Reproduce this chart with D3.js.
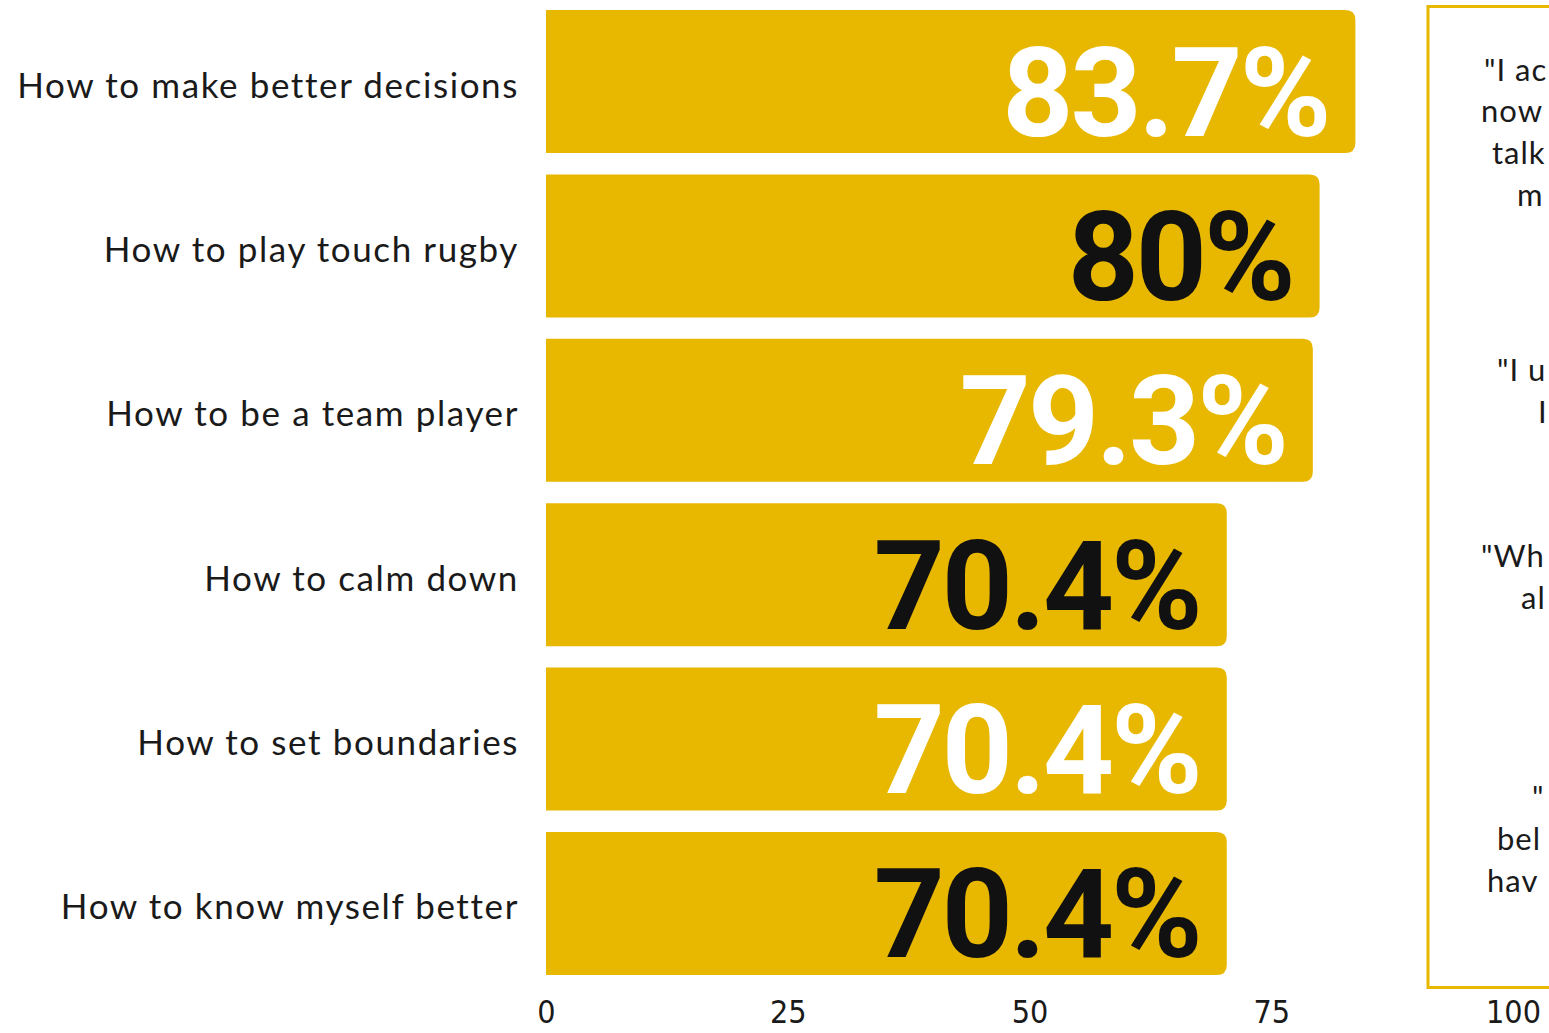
<!DOCTYPE html>
<html>
<head>
    <script src="https://d3js.org/d3.v7.min.js"></script>
    <style type="text/css">
        body { margin: 0; background: #fff; overflow: hidden; }
        svg { display: block; }
        .cat { font-family: Lato, "Noto Sans", sans-serif; font-size: 35px; letter-spacing: 1.6px; fill: #1a1a1a; }
        .val { font-family: Roboto, "Liberation Sans", sans-serif; font-weight: 700; font-size: 124px; letter-spacing: -3px; }
        .tick text { font-family: "Liberation Sans Narrow", "DejaVu Sans Condensed", sans-serif; font-stretch: condensed; font-size: 32px; fill: #1a1a1a; }
        .quote { font-family: Lato, "Noto Sans", sans-serif; font-size: 31px; letter-spacing: 1px; fill: #1a1a1a; }
    </style>
</head>
<body>
    <script type="text/javascript">

        var w = 1549;
        var h = 1033;

        // chart data
        var categories = ["How to make better decisions", "How to play touch rugby", "How to be a team player",
                          "How to calm down", "How to set boundaries", "How to know myself better"];
        var values = [83.7, 80, 79.3, 70.4, 70.4, 70.4];
        var valueLabels = ["83.7%", "80%", "79.3%", "70.4%", "70.4%", "70.4%"];
        var labelColors = ["#ffffff", "#111111", "#ffffff", "#111111", "#ffffff", "#111111"];
        var ticks = [0, 25, 50, 75, 100];

        // quote fragments visible at the right edge (box is cut off by the page)
        var quoteLines = ["\"I ac", "now", "talk", "m", "\"I u", "I", "\"Wh", "al", "\"", "bel", "hav"];
        var quoteX = [1484, 1481, 1492, 1517, 1497, 1538, 1481, 1521, 1532, 1497, 1487];
        var quoteY = [81, 122, 164, 206, 381, 423, 567, 609, 808, 850, 892];

        var barColor = "#e8b700";

        var svg = d3.select("body")
            .append("svg")
            .attr("width", w)
            .attr("height", h);

        var xScale = d3.scaleLinear()
            .domain([0, 100])
            .range([546, 1513]);

        var yScale = d3.scaleBand()
            .domain(categories)
            .range([10, 975])
            .paddingInner(0.13)
            .paddingOuter(0);

        // bar with rounded right corners only
        function barPath(d, i) {
            var x0 = xScale(0), x1 = xScale(d), y0 = yScale(categories[i]), bh = yScale.bandwidth(), r = 10;
            return "M" + x0 + "," + y0 +
                "H" + (x1 - r) +
                "Q" + x1 + "," + y0 + " " + x1 + "," + (y0 + r) +
                "V" + (y0 + bh - r) +
                "Q" + x1 + "," + (y0 + bh) + " " + (x1 - r) + "," + (y0 + bh) +
                "H" + x0 + "Z";
        }

        svg.selectAll("path.bar")
            .data(values)
            .enter()
            .append("path")
            .attr("class", "bar")
            .attr("d", barPath)
            .attr("fill", barColor);

        // category labels
        svg.selectAll("text.cat")
            .data(categories)
            .enter()
            .append("text")
            .attr("class", "cat")
            .attr("x", 519)
            .attr("y", function(d) { return yScale(d) + yScale.bandwidth() / 2 + 2; })
            .attr("text-anchor", "end")
            .attr("dominant-baseline", "central")
            .text(function(d) { return d; });

        // value labels inside bars
        svg.selectAll("text.val")
            .data(values)
            .enter()
            .append("text")
            .attr("class", "val")
            .attr("x", function(d) { return xScale(d) - 27; })
            .attr("y", function(d, i) { return yScale(categories[i]) + yScale.bandwidth() / 2 + 54; })
            .attr("text-anchor", "end")
            .attr("fill", function(d, i) { return labelColors[i]; })
            .text(function(d, i) { return valueLabels[i]; });

        // x axis, labels only
        var xAxis = d3.axisBottom(xScale)
            .tickValues(ticks)
            .tickSize(0)
            .tickPadding(0);

        svg.append("g")
            .attr("transform", "translate(0,1000)")
            .call(xAxis)
            .call(function(g) { g.select(".domain").remove(); })
            .selectAll("text")
            .attr("dy", "0.71em");

        // quote box
        svg.append("rect")
            .attr("x", 1428)
            .attr("y", 6.5)
            .attr("width", 200)
            .attr("height", 981)
            .attr("fill", "none")
            .attr("stroke", barColor)
            .attr("stroke-width", 3);

        svg.selectAll("text.quote")
            .data(quoteLines)
            .enter()
            .append("text")
            .attr("class", "quote")
            .attr("x", function(d, i) { return quoteX[i]; })
            .attr("y", function(d, i) { return quoteY[i]; })
            .text(function(d) { return d; });

    </script>
</body>
</html>
